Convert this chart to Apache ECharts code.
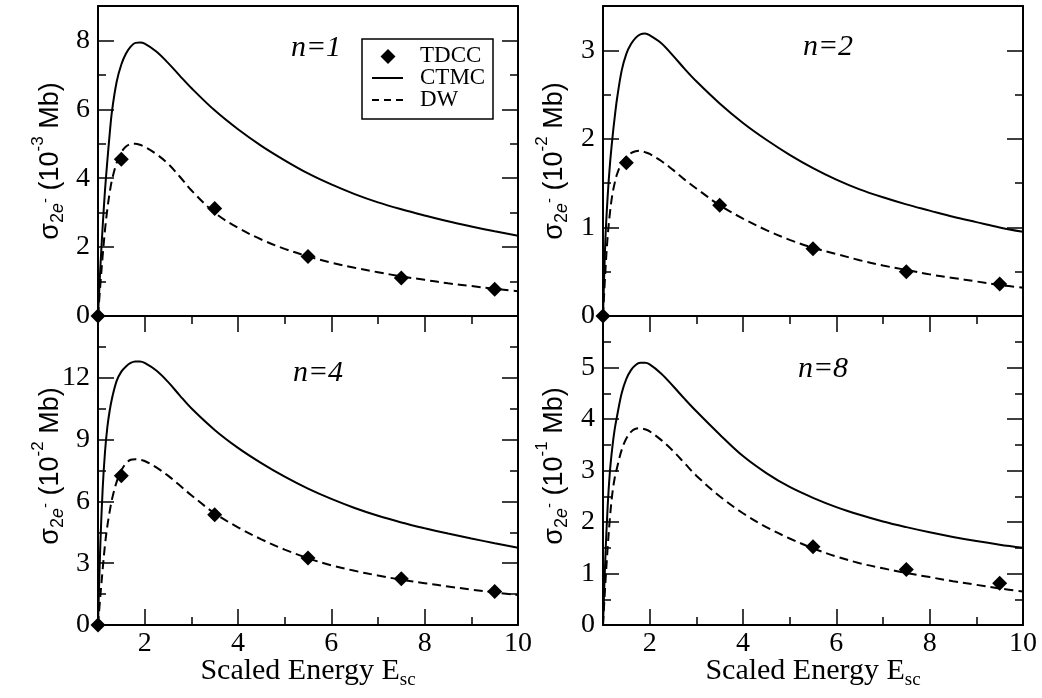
<!DOCTYPE html>
<html><head><meta charset="utf-8">
<script src="https://cdn.jsdelivr.net/npm/echarts@6/dist/echarts.min.js"></script>
<style>html,body{margin:0;padding:0;background:#fff}#c{width:1042px;height:698px}</style>
</head><body><div id="c"></div>
<script>
// ---------- data ----------
const energy  = [1, 1.05, 1.1, 1.15, 1.2, 1.25, 1.3, 1.4, 1.5, 1.6, 1.7, 1.8, 1.9, 2.0, 2.25, 2.5, 2.75, 3.0, 3.5, 4.0, 4.5, 5.0, 5.5, 6.0, 6.5, 7.0, 7.5, 8.0, 8.5, 9.0, 9.5, 10.0];

const ctmc_n1 = [0, 1.4, 2.6, 3.65, 4.5, 5.28, 5.95, 6.8, 7.3, 7.62, 7.82, 7.93, 7.94, 7.91, 7.68, 7.35, 6.98, 6.62, 5.97, 5.42, 4.94, 4.52, 4.14, 3.82, 3.54, 3.3, 3.1, 2.92, 2.75, 2.6, 2.46, 2.33];
const dw_n1   = [0, 0.9, 1.75, 2.5, 3.1, 3.58, 3.95, 4.45, 4.75, 4.92, 4.99, 5.0, 4.97, 4.91, 4.7, 4.42, 4.05, 3.65, 3.0, 2.56, 2.22, 1.95, 1.73, 1.55, 1.4, 1.27, 1.15, 1.05, 0.95, 0.87, 0.79, 0.72];

const ctmc_n2 = [0, 0.85, 1.35, 1.72, 2.0, 2.24, 2.45, 2.77, 2.96, 3.07, 3.14, 3.18, 3.19, 3.17, 3.08, 2.94, 2.79, 2.65, 2.4, 2.18, 1.99, 1.82, 1.67, 1.54, 1.43, 1.34, 1.26, 1.19, 1.12, 1.06, 1.0, 0.95];
const dw_n2   = [0, 0.5, 0.9, 1.17, 1.37, 1.5, 1.6, 1.73, 1.8, 1.84, 1.86, 1.865, 1.85, 1.83, 1.75, 1.65, 1.54, 1.44, 1.25, 1.1, 0.97, 0.86, 0.77, 0.7, 0.63, 0.57, 0.52, 0.47, 0.43, 0.39, 0.35, 0.32];

const ctmc_n4 = [0, 3.9, 6.6, 8.4, 9.6, 10.4, 11.0, 11.85, 12.3, 12.55, 12.72, 12.79, 12.79, 12.72, 12.35, 11.8, 11.15, 10.52, 9.47, 8.6, 7.86, 7.2, 6.62, 6.12, 5.68, 5.3, 4.98, 4.7, 4.44, 4.2, 3.97, 3.75];
const dw_n4   = [0, 1.4, 2.7, 3.9, 4.8, 5.5, 6.1, 6.95, 7.5, 7.85, 8.02, 8.05, 8.02, 7.96, 7.65, 7.25, 6.78, 6.3, 5.42, 4.74, 4.16, 3.66, 3.24, 2.9, 2.63, 2.4, 2.2, 2.03, 1.87, 1.72, 1.58, 1.45];

const ctmc_n8 = [0, 1.3, 2.3, 3.0, 3.45, 3.8, 4.05, 4.5, 4.78, 4.95, 5.05, 5.09, 5.09, 5.06, 4.88, 4.64, 4.39, 4.15, 3.7, 3.28, 2.95, 2.68, 2.47, 2.29, 2.14, 2.01, 1.9, 1.8, 1.71, 1.63, 1.56, 1.5];
const dw_n8   = [0, 0.8, 1.5, 2.1, 2.55, 2.85, 3.05, 3.4, 3.62, 3.75, 3.81, 3.82, 3.8, 3.76, 3.59, 3.38, 3.14, 2.9, 2.5, 2.17, 1.9, 1.68, 1.49, 1.33, 1.2, 1.1, 1.01, 0.93, 0.85, 0.78, 0.71, 0.65];

const tdccEnergy    = [1, 1.5, 3.5, 5.5, 7.5, 9.5];
const tdcc_n1       = [0, 4.55, 3.12, 1.73, 1.1, 0.78];
const tdcc_n2       = [0, 1.73, 1.25, 0.76, 0.5, 0.36];
const tdcc_n4       = [0, 7.25, 5.35, 3.25, 2.24, 1.63];
const tdccEnergy_n8 = [5.5, 7.5, 9.5];
const tdcc_n8       = [1.52, 1.08, 0.81];

const xMajorTicks = [2, 4, 6, 8, 10];
const xMinorTicks = [3, 5, 7, 9];
const yMajor_n1 = [0, 2, 4, 6, 8];        const yMinor_n1 = [1, 3, 5, 7];
const yMajor_n2 = [0, 1, 2, 3];           const yMinor_n2 = [0.5, 1.5, 2.5];
const yMajor_n4 = [0, 3, 6, 9, 12];       const yMinor_n4 = [1.5, 4.5, 7.5, 10.5, 13.5];
const yMajor_n8 = [0, 1, 2, 3, 4, 5];     const yMinor_n8 = [0.5, 1.5, 2.5, 3.5, 4.5, 5.5];
const yMax = [9, 3.5, 15, 6];
const panelLabels = ['n=1', 'n=2', 'n=4', 'n=8'];
const yExponents = ['-3', '-2', '-2', '-1'];
const legendNames = ['TDCC', 'CTMC', 'DW'];
const xTitle = 'Scaled Energy E';
const xTitleSub = 'sc';

// ---------- layout ----------
const SERIF = 'Liberation Serif';
const SANS = 'Liberation Sans';
const geo = [
  {left: 98, top: 6, width: 420, height: 310, bottomRow: false},
  {left: 603, top: 6, width: 420, height: 310, bottomRow: false},
  {left: 98, top: 316, width: 420, height: 309, bottomRow: true},
  {left: 603, top: 316, width: 420, height: 309, bottomRow: true}
];
const panelData = [
  {ctmc: ctmc_n1, dw: dw_n1, tx: tdccEnergy, ty: tdcc_n1, yMaj: yMajor_n1, yMin: yMinor_n1},
  {ctmc: ctmc_n2, dw: dw_n2, tx: tdccEnergy, ty: tdcc_n2, yMaj: yMajor_n2, yMin: yMinor_n2},
  {ctmc: ctmc_n4, dw: dw_n4, tx: tdccEnergy, ty: tdcc_n4, yMaj: yMajor_n4, yMin: yMinor_n4},
  {ctmc: ctmc_n8, dw: dw_n8, tx: tdccEnergy_n8, ty: tdcc_n8, yMaj: yMajor_n8, yMin: yMinor_n8}
];
const labelPos = [[316, 48], [828, 47], [318, 373], [823, 369]];
const yTitlePos = [[51, 161], [555, 161], [51, 466], [555, 466]];

const lineStyleAxis = {color: '#000', width: 2};
const tickStyle = {color: '#000', width: 1.5};

const grids = [], xAxes = [], yAxes = [], series = [], graphics = [];

function mkAxis(g, o) {
  return {
    type: 'value', gridIndex: g, min: o.min, max: o.max, position: o.position,
    axisLine: {show: o.line, onZero: false, lineStyle: lineStyleAxis},
    axisTick: {show: o.ticks.length > 0, inside: true, length: o.len, customValues: o.ticks, lineStyle: tickStyle},
    axisLabel: o.labels ? Object.assign({show: true, customValues: o.labels, color: '#000', fontFamily: SERIF, fontSize: 28}, o.labelOpt) : {show: false},
    splitLine: {show: false}, minorTick: {show: false}, axisPointer: {show: false}, silent: true
  };
}

geo.forEach((gm, g) => {
  const pd = panelData[g];
  grids.push({left: gm.left, top: gm.top, width: gm.width, height: gm.height, containLabel: false, outerBoundsMode: 'none'});
  const xb = xAxes.length, yb = yAxes.length;
  const tb = gm.bottomRow;
  xAxes.push(mkAxis(g, {min: 1, max: 10, position: 'bottom', line: true, ticks: tb ? xMajorTicks : [], len: 16,
    labels: tb ? xMajorTicks : null, labelOpt: {margin: 5}}));
  xAxes.push(mkAxis(g, {min: 1, max: 10, position: 'bottom', line: false, ticks: tb ? xMinorTicks : [], len: 8}));
  xAxes.push(mkAxis(g, {min: 1, max: 10, position: 'top', line: true, ticks: tb ? xMajorTicks : [], len: 16}));
  xAxes.push(mkAxis(g, {min: 1, max: 10, position: 'top', line: false, ticks: tb ? xMinorTicks : [], len: 8}));
  yAxes.push(mkAxis(g, {min: 0, max: yMax[g], position: 'left', line: true, ticks: pd.yMaj, len: 16,
    labels: pd.yMaj, labelOpt: {margin: 8}}));
  yAxes.push(mkAxis(g, {min: 0, max: yMax[g], position: 'left', line: false, ticks: pd.yMin, len: 8}));
  yAxes.push(mkAxis(g, {min: 0, max: yMax[g], position: 'right', line: true, ticks: pd.yMaj, len: 16}));
  yAxes.push(mkAxis(g, {min: 0, max: yMax[g], position: 'right', line: false, ticks: pd.yMin, len: 8}));

  series.push({
    name: legendNames[1], type: 'line', xAxisIndex: xb, yAxisIndex: yb,
    data: energy.map((x, i) => [x, pd.ctmc[i]]),
    showSymbol: false, symbol: 'none', smooth: 0.35,
    lineStyle: {color: '#000', width: 2, opacity: 1}, silent: true, z: 2
  });
  series.push({
    name: legendNames[2], type: 'line', xAxisIndex: xb, yAxisIndex: yb,
    data: energy.map((x, i) => [x, pd.dw[i]]),
    showSymbol: false, symbol: 'none', smooth: 0.35,
    lineStyle: {color: '#000', width: 2, type: [9, 5], opacity: 1}, silent: true, z: 2
  });
  series.push({
    name: legendNames[0], type: 'scatter', xAxisIndex: xb, yAxisIndex: yb,
    data: pd.tx.map((x, i) => [x, pd.ty[i]]),
    symbol: 'diamond', symbolSize: 15, clip: false,
    itemStyle: {color: '#000', opacity: 1}, silent: true, z: 5
  });

  graphics.push({type: 'text', x: labelPos[g][0], y: labelPos[g][1], silent: true,
    style: {text: panelLabels[g], font: 'italic 30px "' + SERIF + '"', fill: '#000', align: 'center', verticalAlign: 'middle'}});
  graphics.push({type: 'text', x: yTitlePos[g][0], y: yTitlePos[g][1], rotation: Math.PI / 2, silent: true,
    style: {
      text: '{m|σ}{sub|2}{subi|e}{ssup|-}{m| (10}{sup|' + yExponents[g] + '}{m| Mb)}',
      align: 'center', verticalAlign: 'middle', fill: '#000',
      rich: {
        m: {fontFamily: SANS, fontSize: 27, lineHeight: 30, fill: '#000'},
        sub: {fontFamily: SANS, fontSize: 18, lineHeight: 20, padding: [14, 0, 0, 0], fill: '#000'},
        subi: {fontFamily: SANS, fontSize: 18, fontStyle: 'italic', lineHeight: 20, padding: [14, 0, 0, 0], fill: '#000'},
        ssup: {fontFamily: SANS, fontSize: 15, lineHeight: 16, padding: [0, 0, 10, 0], fill: '#000'},
        sup: {fontFamily: SANS, fontSize: 17, lineHeight: 18, padding: [0, 0, 26, 0], fill: '#000'}
      }
    }});
  if (tb) {
    graphics.push({type: 'text', x: gm.left + gm.width / 2, y: 671, silent: true,
      style: {
        text: '{m|' + xTitle + '}{sub|' + xTitleSub + '}', align: 'center', verticalAlign: 'middle', fill: '#000',
        rich: {
          m: {fontFamily: SERIF, fontSize: 30, lineHeight: 34, fill: '#000'},
          sub: {fontFamily: SERIF, fontSize: 19, lineHeight: 20, padding: [18, 0, 0, 0], fill: '#000'}
        }
      }});
  }
});

// legend box (top-left panel)
graphics.push({type: 'rect', silent: true, z: 10, shape: {x: 362, y: 39, width: 131, height: 80},
  style: {fill: '#fff', stroke: '#000', lineWidth: 1.5}});
graphics.push({type: 'polygon', silent: true, z: 11, shape: {points: [[388, 49], [395.5, 56.5], [388, 64], [380.5, 56.5]]},
  style: {fill: '#000'}});
graphics.push({type: 'line', silent: true, z: 11, shape: {x1: 372, y1: 78, x2: 403, y2: 78}, style: {stroke: '#000', lineWidth: 2}});
graphics.push({type: 'line', silent: true, z: 11, shape: {x1: 372, y1: 100, x2: 403, y2: 100}, style: {stroke: '#000', lineWidth: 2, lineDash: [7, 5]}});
[56, 78, 100].forEach((yy, i) => {
  graphics.push({type: 'text', silent: true, z: 11, x: 420, y: yy,
    style: {text: legendNames[i], font: '23px "' + SERIF + '"', fill: '#000', align: 'left', verticalAlign: 'middle'}});
});

const chart = echarts.init(document.getElementById('c'), null, {renderer: 'canvas'});
chart.setOption({
  animation: false,
  backgroundColor: '#fff',
  grid: grids, xAxis: xAxes, yAxis: yAxes, series: series,
  graphic: graphics,
  tooltip: {show: false}
});
</script></body></html>
